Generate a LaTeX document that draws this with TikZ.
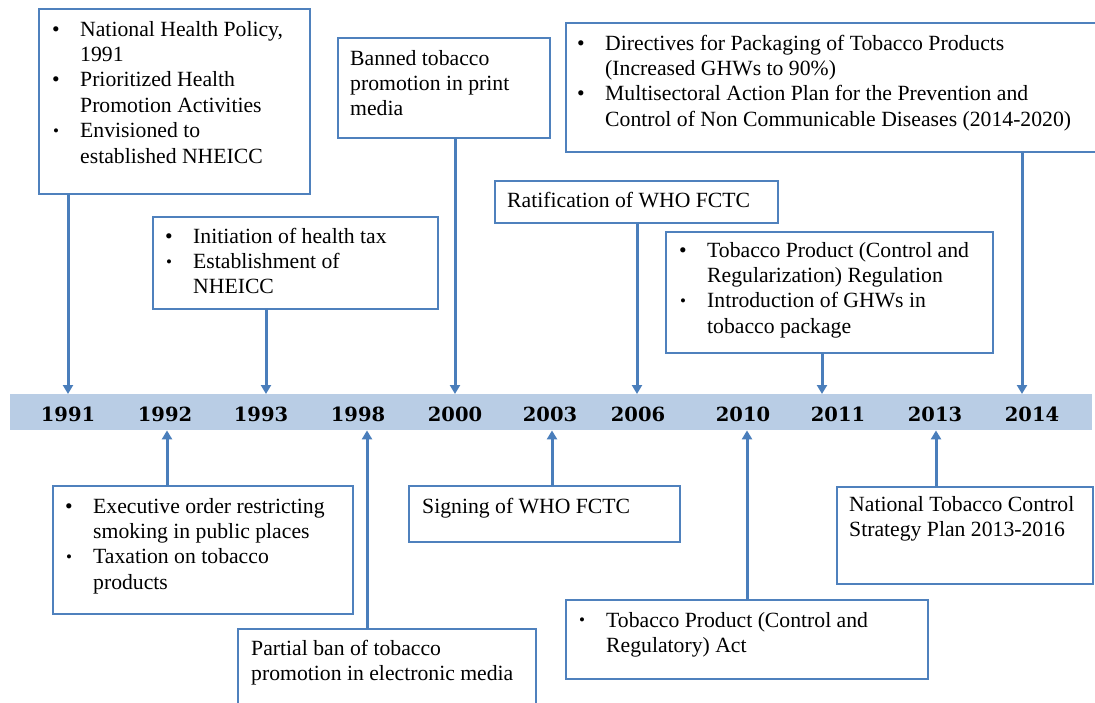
\documentclass[tikz,border=0pt]{standalone}
\usepackage{fontspec}
\setmainfont{Liberation Serif}
\newfontfamily\yearfont{DejaVu Serif}
\usetikzlibrary{arrows.meta}
\definecolor{boxblue}{RGB}{79,129,189}
\definecolor{arrblue}{RGB}{74,126,187}
\definecolor{barblue}{RGB}{185,205,229}
\newcommand{\bigbul}{\makebox[28pt][l]{•}}
\newcommand{\smbul}{\makebox[28pt][l]{\hspace*{1pt}\raisebox{1.2pt}{\fontsize{17}{17}\selectfont •}}}
\newcommand{\indt}{\hspace*{28pt}}
\begin{document}
\begin{tikzpicture}[x=1pt,y=-1pt,
  box/.style={draw=boxblue,line width=1.6pt,fill=white,inner sep=0pt,outer sep=0pt,anchor=north west},
  txt/.style={anchor=north west,inner sep=0pt,align=left,font=\fontsize{21.7}{25.4}\selectfont},
  year/.style={anchor=base,font=\yearfont\bfseries\fontsize{19.5}{19.5}\selectfont},
  arr/.style={draw=arrblue,line width=3pt,-{Triangle[width=10pt,length=9pt]}}]
\useasboundingbox (0,0) rectangle (1095,703);
\clip (0,0) rectangle (1095,703);
% timeline bar
\node[fill=barblue,minimum width=1082,minimum height=36,anchor=north west,inner sep=0pt] (bar) at (10,394) {};
% years
\node[year] (y1991) at (68,421) {1991};
\node[year] (y1992) at (165,421) {1992};
\node[year] (y1993) at (261,421) {1993};
\node[year] (y1998) at (358,421) {1998};
\node[year] (y2000) at (455,421) {2000};
\node[year] (y2003) at (550,421) {2003};
\node[year] (y2006) at (638,421) {2006};
\node[year] (y2010) at (743,421) {2010};
\node[year] (y2011) at (838,421) {2011};
\node[year] (y2013) at (935,421) {2013};
\node[year] (y2014) at (1032,421) {2014};
% arrow positions
\coordinate (a1991) at (68,0);
\coordinate (a1992) at (167,0);
\coordinate (a1993) at (266,0);
\coordinate (a1998) at (367,0);
\coordinate (a2000) at (455,0);
\coordinate (a2003) at (552,0);
\coordinate (a2006) at (637,0);
\coordinate (a2010) at (747,0);
\coordinate (a2011) at (822,0);
\coordinate (a2013) at (936,0);
\coordinate (a2014) at (1022,0);
% boxes
\node[box,minimum width=271,minimum height=185] (b1991) at (39,9) {};
\node[box,minimum width=285,minimum height=92] (b1993) at (153,217) {};
\node[box,minimum width=212,minimum height=100] (b2000) at (338,38) {};
\node[box,minimum width=283,minimum height=42] (b2006) at (495,181) {};
\node[box,minimum width=327,minimum height=121] (b2011) at (666,232) {};
\node[box,minimum width=540,minimum height=129] (b2014) at (566,23) {};
\node[box,minimum width=300,minimum height=128] (b1992) at (53,486) {};
\node[box,minimum width=298,minimum height=90] (b1998) at (238,629) {};
\node[box,minimum width=271,minimum height=56] (b2003) at (409,486) {};
\node[box,minimum width=362,minimum height=79] (b2010) at (566,600) {};
\node[box,minimum width=256,minimum height=97] (b2013) at (837,487) {};
% arrows
\draw[arr] (b1991.south -| a1991) -- (bar.north -| a1991);
\draw[arr] (b1993.south -| a1993) -- (bar.north -| a1993);
\draw[arr] (b2000.south -| a2000) -- (bar.north -| a2000);
\draw[arr] (b2006.south -| a2006) -- (bar.north -| a2006);
\draw[arr] (b2011.south -| a2011) -- (bar.north -| a2011);
\draw[arr] (b2014.south -| a2014) -- (bar.north -| a2014);
\draw[arr] (b1992.north -| a1992) -- (bar.south -| a1992);
\draw[arr] (b1998.north -| a1998) -- (bar.south -| a1998);
\draw[arr] (b2003.north -| a2003) -- (bar.south -| a2003);
\draw[arr] (b2010.north -| a2010) -- (bar.south -| a2010);
\draw[arr] (b2013.north -| a2013) -- (bar.south -| a2013);
% texts
\node[txt] (t1991) at (52,18.2) {\strut\bigbul National Health Policy,\\ \indt 1991\\ \bigbul Prioritized Health\\ \indt Promotion Activities\\ \smbul Envisioned to\\ \indt established NHEICC};
\node[txt] (t1993) at (165,225.2) {\strut\bigbul Initiation of health tax\\ \smbul Establishment of\\ \indt NHEICC};
\node[txt] (t2000) at (350,47.2) {\strut Banned tobacco\\ promotion in print\\ media};
\node[txt] (t2006) at (507,189.2) {\strut Ratification of WHO FCTC};
\node[txt] (t2014) at (577,32.2) {\strut\bigbul Directives for Packaging of Tobacco Products\\ \indt (Increased GHWs to 90\%)\\ \bigbul Multisectoral Action Plan for the Prevention and\\ \indt Control of Non Communicable Diseases (2014-2020)};
\node[txt] (t2011) at (679,239.2) {\strut\bigbul Tobacco Product (Control and\\ \indt Regularization) Regulation\\ \smbul Introduction of GHWs in\\ \indt tobacco package};
\node[txt] (t1992) at (65,495.2) {\strut\bigbul Executive order restricting\\ \indt smoking in public places\\ \smbul Taxation on tobacco\\ \indt products};
\node[txt] (t1998) at (251,637.2) {\strut Partial ban of tobacco\\ promotion in electronic media};
\node[txt] (t2003) at (422,495.2) {\strut Signing of WHO FCTC};
\node[txt] (t2010) at (578,609.2) {\strut\smbul Tobacco Product (Control and\\ \indt Regulatory) Act};
\node[txt] (t2013) at (849,493.2) {\strut National Tobacco Control\\ Strategy Plan 2013-2016};
\end{tikzpicture}
\end{document}
